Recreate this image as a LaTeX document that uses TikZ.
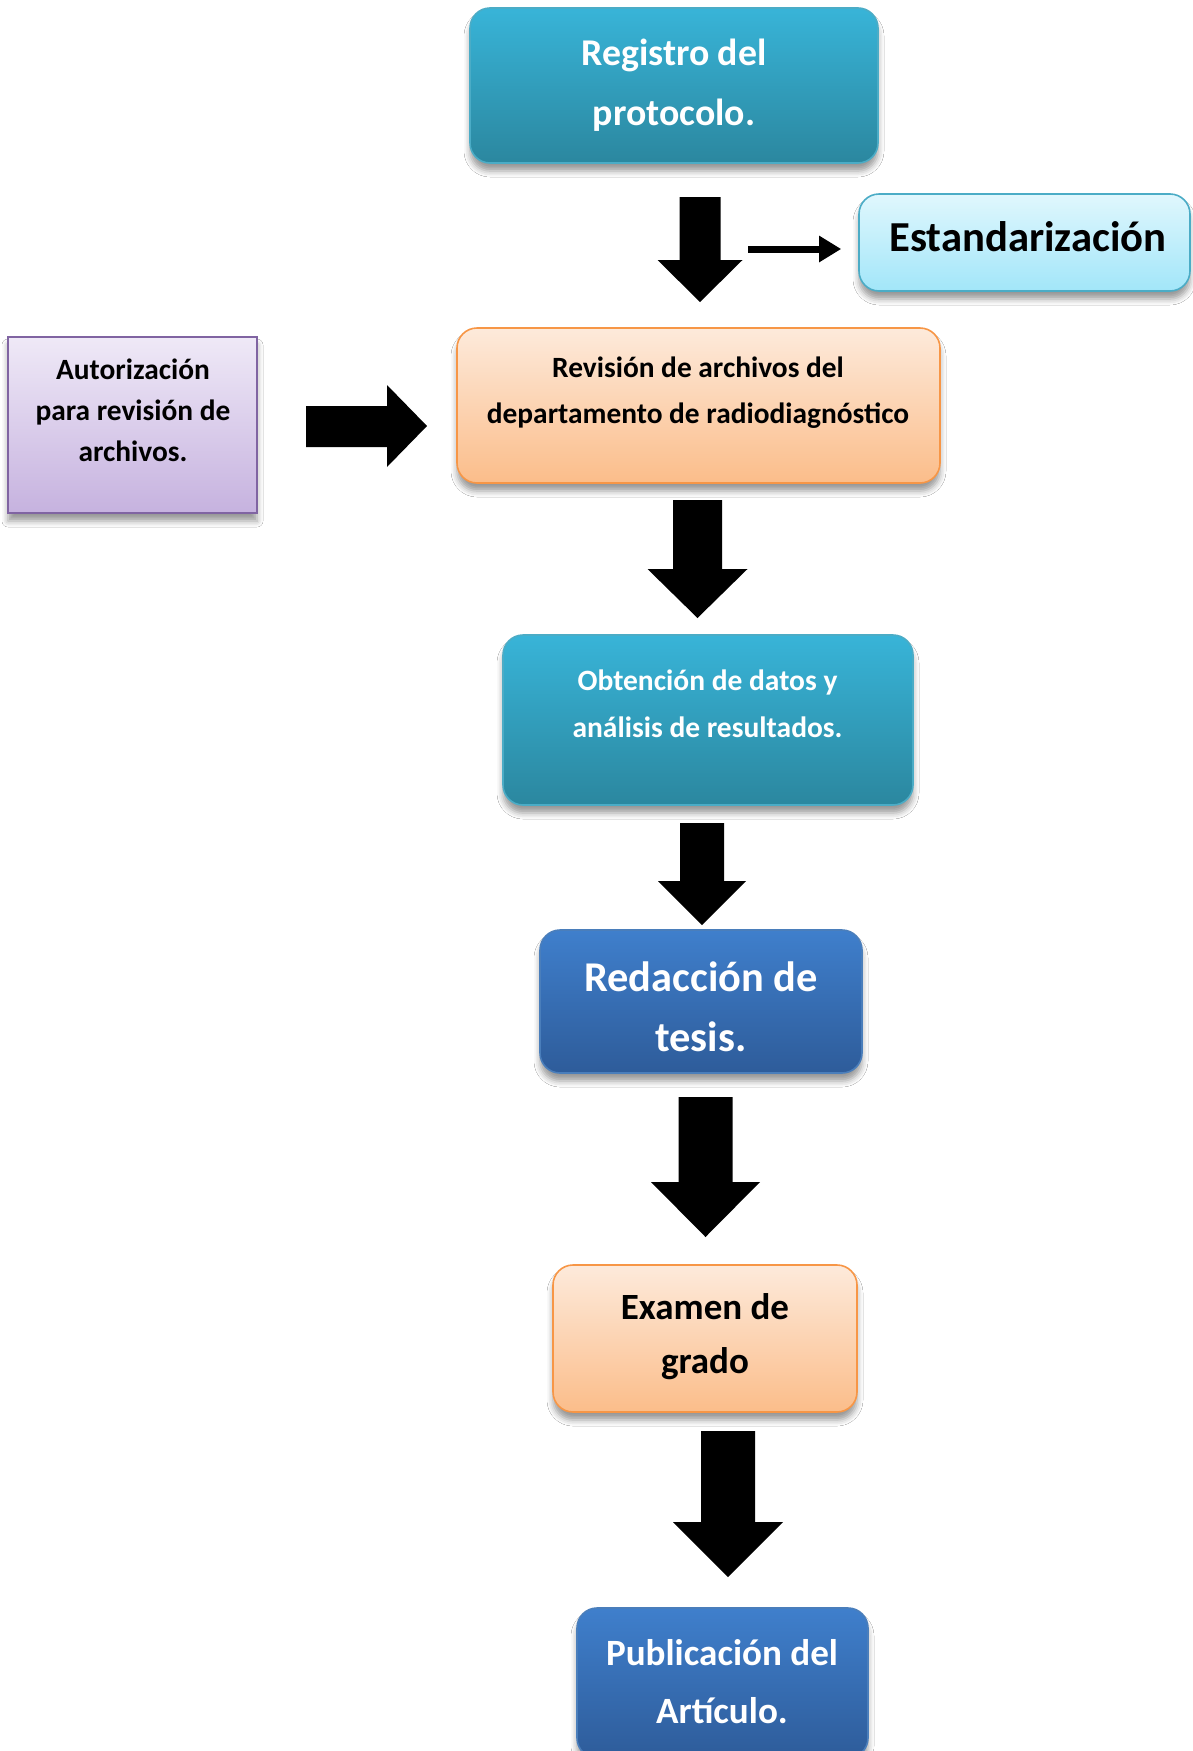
\documentclass[tikz,border=0pt]{standalone}
\usepackage{fontspec}
\setmainfont{Carlito}
\usetikzlibrary{shadows.blur,arrows.meta}
\definecolor{tealT}{HTML}{38B4D8}
\definecolor{tealB}{HTML}{2B879F}
\definecolor{tealD}{HTML}{4BACC6}
\definecolor{orT}{HTML}{FDEADB}
\definecolor{orB}{HTML}{FBBD8A}
\definecolor{orD}{HTML}{F79646}
\definecolor{blT}{HTML}{3F7FCC}
\definecolor{blB}{HTML}{2E5C9A}
\definecolor{blD}{HTML}{4A7EBB}
\definecolor{cyT}{HTML}{E0F7FD}
\definecolor{cyB}{HTML}{A2E6F9}
\definecolor{puT}{HTML}{EFE9F7}
\definecolor{puB}{HTML}{C6B2DF}
\definecolor{puD}{HTML}{8064A2}
\newcommand{\blkdown}[6]{%
  \fill[black] ({#1-#2},#3) -- ({#1+#2},#3) -- ({#1+#2},#4) -- ({#1+#5},#4)
    -- (#1,#6) -- ({#1-#5},#4) -- ({#1-#2},#4) -- cycle;}
\tikzset{
  boxbase/.style={draw, line width=0.8pt, inner sep=0pt,
    blur shadow={shadow xshift=0pt, shadow yshift=-4pt, shadow opacity=40, shadow blur radius=3pt}},
  tealbox/.style={boxbase, rounded corners=10pt, draw=tealD, top color=tealT, bottom color=tealB},
  orbox/.style={boxbase, rounded corners=10pt, draw=orD, top color=orT, bottom color=orB},
  blbox/.style={boxbase, rounded corners=10pt, draw=blD, top color=blT, bottom color=blB},
  cybox/.style={boxbase, rounded corners=10pt, draw=tealD, top color=cyT, bottom color=cyB},
  pubox/.style={boxbase, draw=puD, top color=puT, bottom color=puB},
  lbl/.style={align=center, inner sep=0pt, font=\bfseries},
}
\begin{document}
\begin{tikzpicture}[x=0.5pt,y=-0.5pt]
\useasboundingbox (0,0) rectangle (1193,1751);
\fill[white] (0,0) rectangle (1193,1751);

% boxes
\node[tealbox, minimum width=204pt, minimum height=77.5pt] (reg) at (674,85.5) {};
\node[lbl, text=white, font=\bfseries\fontsize{18.9}{30}\selectfont] (regt) at (674,85.5) {Registro del\\protocolo.};

\node[cybox, minimum width=165.5pt, minimum height=48.5pt] (est) at (1024.5,242.5) {};
\node[lbl, font=\bfseries\fontsize{21.35}{25}\selectfont] (estt) at (1028,237) {Estandarización};

\node[pubox, minimum width=124.5pt, minimum height=88pt] (aut) at (132.5,425) {};
\node[lbl, font=\bfseries\fontsize{14.7}{20.5}\selectfont] (autt) at (133,410) {Autorización\\para revisión de\\archivos.};

\node[orbox, minimum width=241.5pt, minimum height=77.5pt] (rev) at (698.5,405.5) {};
\node[lbl, font=\bfseries\fontsize{14.7}{23}\selectfont] (revt) at (698,393) {Revisión de archivos del\\departamento de radiodiagnóstico};

\node[tealbox, minimum width=205pt, minimum height=85pt] (obt) at (708,720) {};
\node[lbl, text=white, font=\bfseries\fontsize{14.75}{23.5}\selectfont] (obtt) at (707.5,703.5) {Obtención de datos y\\análisis de resultados.};

\node[blbox, minimum width=161pt, minimum height=71.5pt] (red) at (701,1001.5) {};
\node[lbl, text=white, font=\bfseries\fontsize{21.2}{30}\selectfont] (redt) at (701,1007) {Redacción de\\tesis.};

\node[orbox, minimum width=152pt, minimum height=73.5pt] (exa) at (705,1338.5) {};
\node[lbl, font=\bfseries\fontsize{18.5}{27}\selectfont] (exat) at (705,1337) {Examen de\\grado};

\node[blbox, minimum width=145.5pt, minimum height=75pt] (pub) at (722.5,1683) {};
\node[lbl, text=white, font=\bfseries\fontsize{18.55}{29}\selectfont] (pubt) at (722,1682) {Publicación del\\Artículo.};

% block arrows
\blkdown{700}{20.5}{197}{260}{42.5}{302}
\blkdown{697.5}{24.5}{500}{569}{50}{618}
\blkdown{702}{22}{823}{881}{44}{925}
\blkdown{705.5}{27}{1097}{1182}{54.5}{1237}
\blkdown{728}{27}{1431}{1522}{55}{1577}
\fill[black] (306,406) -- (387,406) -- (387,385) -- (427,426) -- (387,467) -- (387,447) -- (306,447) -- cycle;

% small arrow to Estandarizacion
\coordinate (sa) at (748,249);
\draw[line width=3.5pt, -{Triangle[length=11pt,width=12.5pt]}, shorten >=8.5pt] (sa) -- (est.west |- sa);
\end{tikzpicture}
\end{document}
